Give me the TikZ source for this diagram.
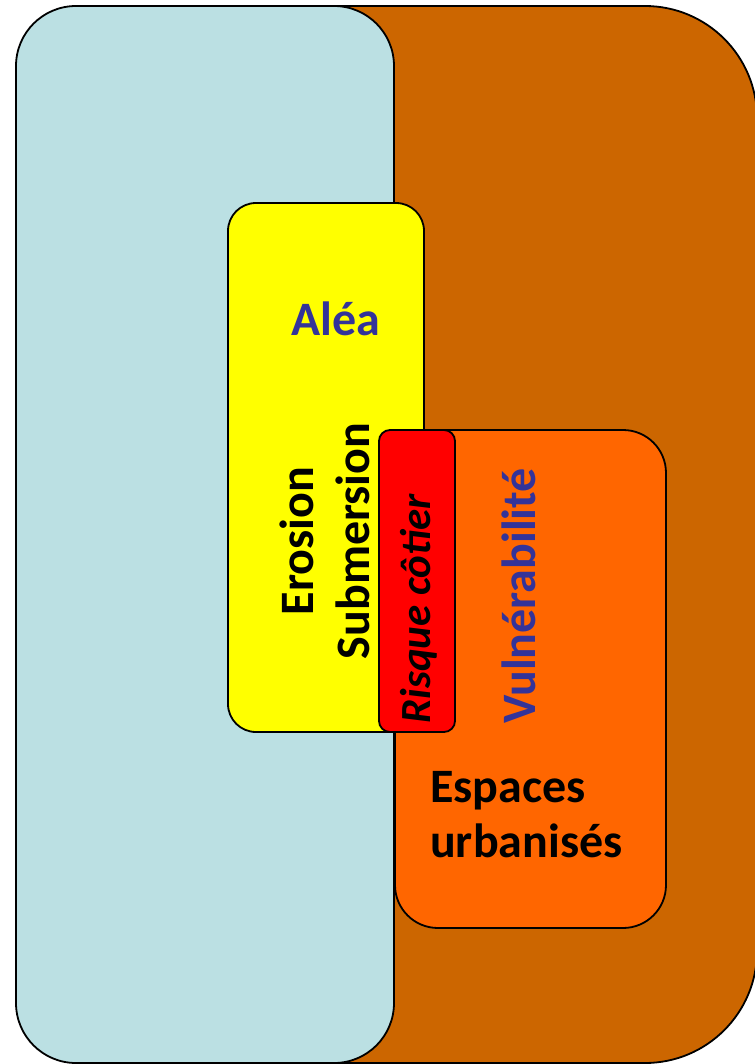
\documentclass[tikz,border=0pt]{standalone}
\usepackage{fontspec}
\setmainfont{Carlito}
\definecolor{bgbrown}{HTML}{CC6600}
\definecolor{bgblue}{HTML}{BBE0E3}
\definecolor{aleayellow}{HTML}{FFFF00}
\definecolor{vulnorange}{HTML}{FF6600}
\definecolor{riskred}{HTML}{FF0000}
\definecolor{txtblue}{HTML}{333399}
\tikzset{
  zone/.style={draw=black, line width=1.8pt},
  lbl/.style={inner sep=0pt, font=\fontsize{48}{55}\selectfont\bfseries},
  vlbl/.style={lbl, rotate=90, anchor=base},
}
\begin{document}
\begin{tikzpicture}[x=1pt, y=-1pt]
\useasboundingbox (0,0) rectangle (754,1064);
% background zones
\draw[zone, fill=bgbrown, rounded corners=112pt] (16,6) rectangle (757,1063);
\draw[zone, fill=bgblue, rounded corners=60pt] (16,6) rectangle (394,1063);
\draw[zone, fill=aleayellow, rounded corners=28pt] (228,203) rectangle (424,732);
\draw[zone, fill=vulnorange, rounded corners=43pt] (395,430) rectangle (666,928);
\draw[zone, fill=riskred, rounded corners=11pt] (379,430) rectangle (455,732);
% labels
\node[lbl, text=txtblue, anchor=base] (alea) at (336,335) {Aléa};
\node[vlbl] (erosion) at (313,541) {Erosion};
\node[vlbl] (submersion) at (369,541) {Submersion};
\node[vlbl, font=\fontsize{43}{50}\selectfont\bfseries\itshape] (risque) at (430,609) {Risque côtier};
\node[vlbl, text=txtblue] (vulne) at (535,596) {Vulnérabilité};
\node[lbl, anchor=base west] (espaces) at (430,802) {Espaces};
\node[lbl, anchor=base west] (urbanises) at (430,857) {urbanisés};
\end{tikzpicture}
\end{document}
